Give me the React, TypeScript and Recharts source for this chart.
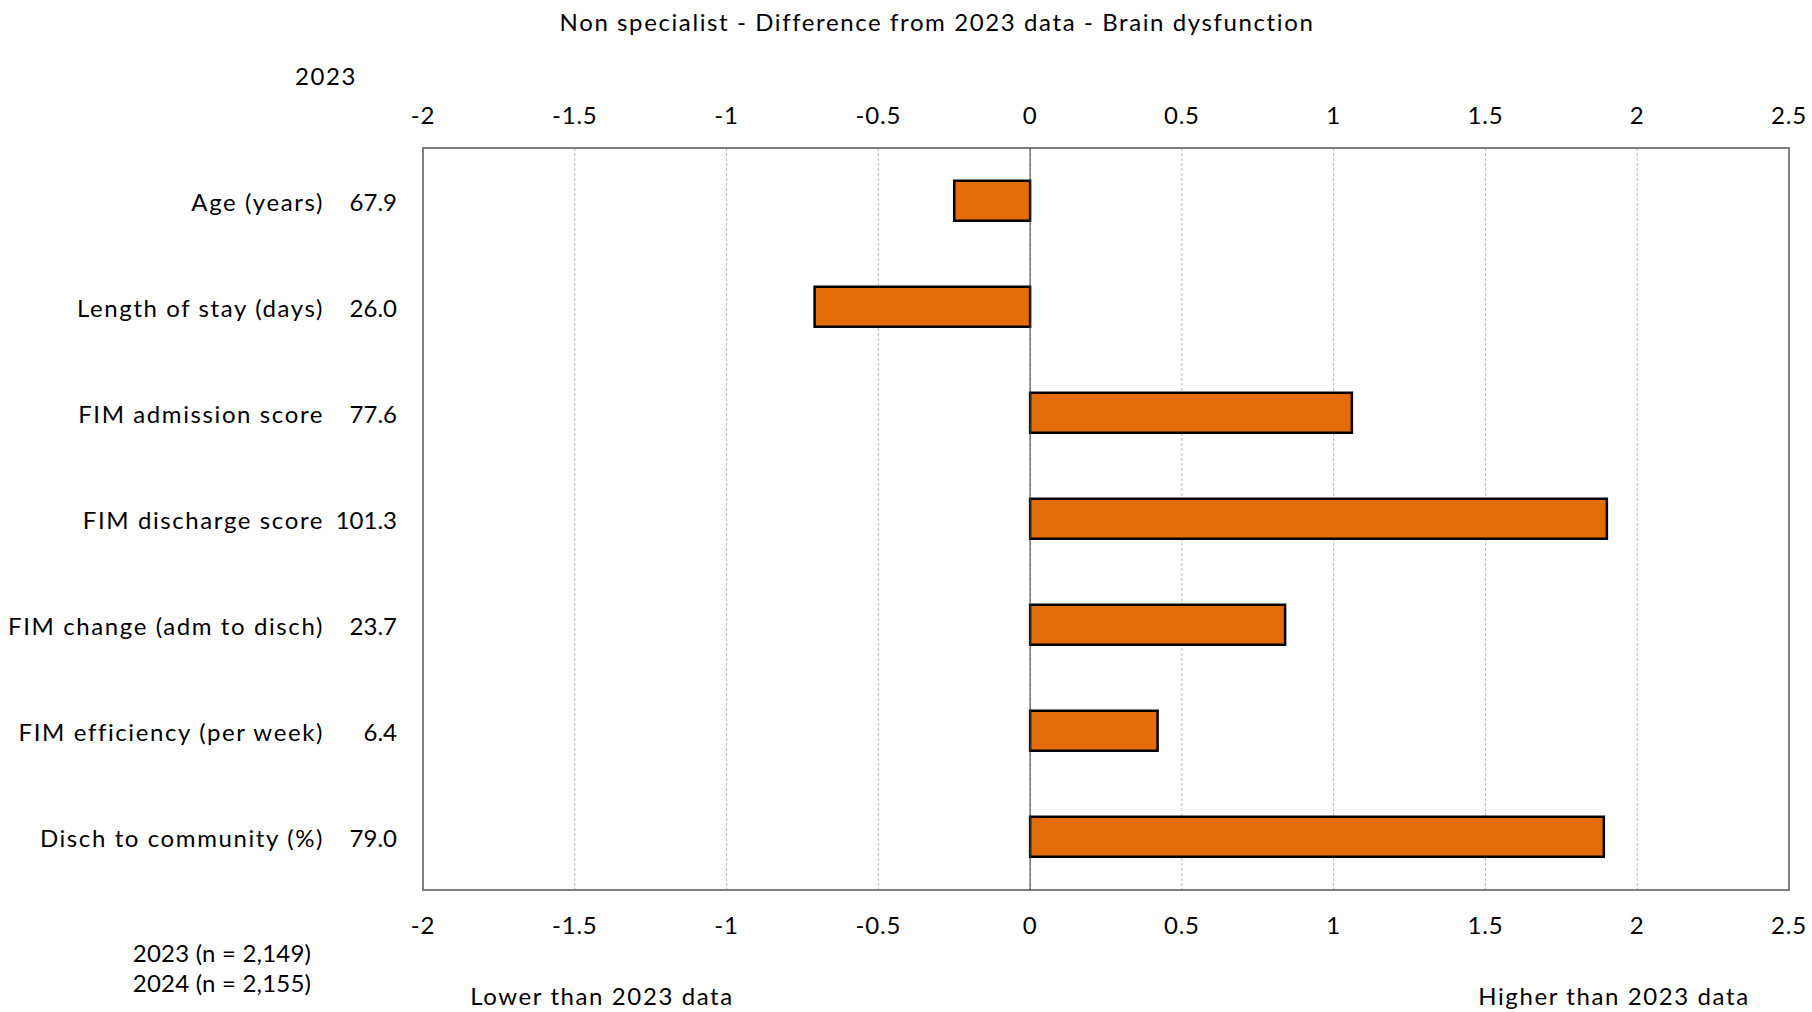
import React from "react";
import {
  BarChart,
  Bar,
  XAxis,
  YAxis,
  CartesianGrid,
  ReferenceLine,
  ReferenceArea,
} from "recharts";

const categories = [
  "Age (years)",
  "Length of stay (days)",
  "FIM admission score",
  "FIM discharge score",
  "FIM change (adm to disch)",
  "FIM efficiency (per week)",
  "Disch to community (%)",
];
const values2023 = ["67.9", "26.0", "77.6", "101.3", "23.7", "6.4", "79.0"];
const differences = [-0.25, -0.71, 1.06, 1.9, 0.84, 0.42, 1.89];
const xTicks = [-2, -1.5, -1, -0.5, 0, 0.5, 1, 1.5, 2, 2.5];

const data = categories.map((c, i) => ({
  category: c,
  base: values2023[i],
  diff: differences[i],
}));

const FONT = "Lato, 'Open Sans', sans-serif";
const FS = 24;
const LS = 1.6;

const txt = {
  fontSize: FS,
  fontFamily: FONT,
  fill: "#000",
  letterSpacing: LS,
};

const XTick = (props: any) => (
  <g>
    <text
      x={props.x}
      y={114}
      textAnchor="middle"
      dominantBaseline="central"
      {...txt}
      letterSpacing={0.8}
    >
      {props.payload.value}
    </text>
    <text
      x={props.x}
      y={924}
      textAnchor="middle"
      dominantBaseline="central"
      {...txt}
      letterSpacing={0.8}
    >
      {props.payload.value}
    </text>
  </g>
);

const CatTick = (props: any) => {
  const name = props.payload.value;
  const idx = categories.indexOf(name);
  return (
    <g>
      <text x={324} y={props.y} textAnchor="end" dominantBaseline="central" {...txt}>
        {name}
      </text>
      <text
        x={397}
        y={props.y}
        textAnchor="end"
        dominantBaseline="central"
        {...txt}
        letterSpacing={0}
      >
        {values2023[idx]}
      </text>
    </g>
  );
};

const Label = ({
  x,
  y,
  ls = LS,
  children,
}: {
  x: number;
  y: number;
  ls?: number;
  children: any;
}) => (
  <div
    style={{
      position: "absolute",
      left: x,
      top: y,
      transform: "translate(-50%, -50%)",
      fontFamily: FONT,
      fontSize: FS,
      letterSpacing: ls,
      lineHeight: 1,
      whiteSpace: "nowrap",
      color: "#000",
    }}
  >
    {children}
  </div>
);

export default function App() {
  return (
    <div
      style={{
        position: "absolute",
        left: 0,
        top: 0,
        width: 1812,
        height: 1012,
        background: "#fff",
      }}
    >
      <BarChart
        width={1812}
        height={1012}
        data={data}
        layout="vertical"
        margin={{ top: 148, right: 23, bottom: 82, left: 0 }}
        barCategoryGap="31%"
      >
        <XAxis
          orientation="bottom"
          type="number"
          domain={[-2, 2.5]}
          ticks={xTicks}
          height={40}
          axisLine={false}
          tickLine={false}
          tick={XTick}
          interval={0}
        />
        <YAxis
          type="category"
          dataKey="category"
          width={423}
          axisLine={false}
          tickLine={false}
          tick={CatTick}
          interval={0}
        />
        <CartesianGrid horizontal={false} stroke="#b8b8b8" strokeDasharray="3 2" />
        <ReferenceLine x={0} stroke="#404040" strokeWidth={1} />
        <Bar
          dataKey="diff"
          fill="#E46C0A"
          stroke="#000"
          strokeWidth={2.5}
          isAnimationActive={false}
        />
        <ReferenceArea
          x1={-2}
          x2={2.5}
          fill="none"
          fillOpacity={0}
          stroke="#7f7f7f"
          strokeWidth={2}
          ifOverflow="visible"
        />
      </BarChart>
      <Label x={937} y={22}>
        Non specialist - Difference from 2023 data - Brain dysfunction
      </Label>
      <Label x={326} y={76}>2023</Label>
      <Label x={222} y={953} ls={0.2}>2023 (n = 2,149)</Label>
      <Label x={222} y={983} ls={0.2}>2024 (n = 2,155)</Label>
      <Label x={602} y={996}>Lower than 2023 data</Label>
      <Label x={1614} y={996}>Higher than 2023 data</Label>
    </div>
  );
}
